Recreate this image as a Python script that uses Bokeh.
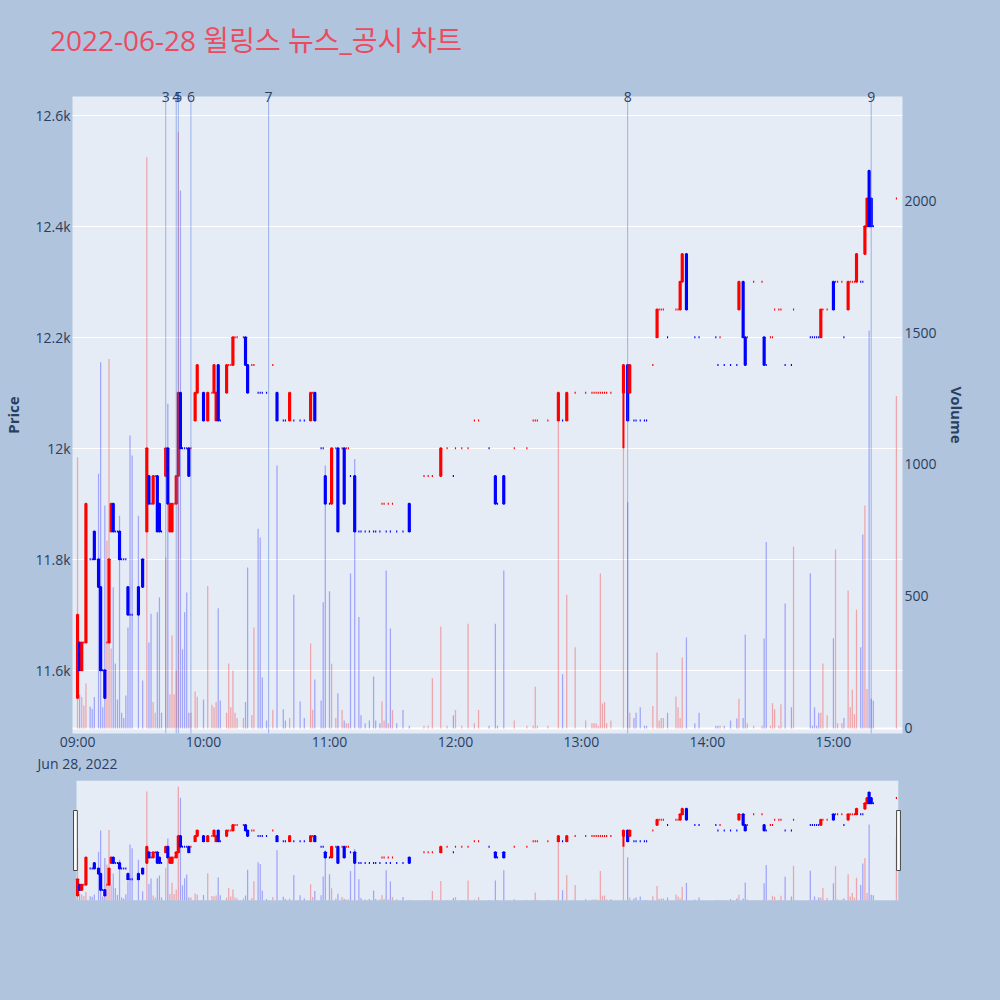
import pandas as pd
from bokeh.plotting import figure
from bokeh.models import (Range1d, LinearAxis, FixedTicker, NumeralTickFormatter,
                          DatetimeTickFormatter, Grid, Span, ColumnDataSource, AllLabels,
                          BoxAnnotation, GlobalInlineStyleSheet, Div)
from bokeh.layouts import column
from bokeh.embed import file_html
from bokeh.resources import INLINE

DATE = "2022-06-28"
TITLE = "2022-06-28 윌링스 뉴스_공시 차트"

times = ["09:00","09:01","09:02","09:03","09:04","09:06","09:07","09:08","09:10","09:11",
         "09:12","09:13","09:14","09:15","09:16","09:17","09:18","09:19","09:20","09:21",
         "09:22","09:23","09:24","09:25","09:26","09:29","09:31","09:33","09:34","09:35",
         "09:36","09:37","09:38","09:39","09:40","09:42","09:43","09:44","09:45","09:46",
         "09:47","09:48","09:49","09:50","09:51","09:52","09:53","09:54","09:56","09:57",
         "10:00","10:02","10:04","10:05","10:06","10:07","10:08","10:11","10:12","10:13",
         "10:14","10:15","10:16","10:19","10:20","10:21","10:23","10:24","10:26","10:27",
         "10:28","10:30","10:33","10:35","10:38","10:39","10:41","10:43","10:46","10:48",
         "10:51","10:52","10:53","10:56","10:57","10:58","11:00","11:01","11:03","11:04",
         "11:06","11:07","11:08","11:09","11:10","11:12","11:14","11:15","11:17","11:19",
         "11:21","11:22","11:24","11:25","11:26","11:27","11:28","11:29","11:30","11:32",
         "11:35","11:38","11:45","11:47","11:49","11:53","11:56","11:59","12:00","12:03",
         "12:06","12:09","12:11","12:16","12:19","12:20","12:23","12:28","12:34","12:37",
         "12:38","12:39","12:44","12:49","12:51","12:53","12:57","13:02","13:05","13:06",
         "13:07","13:08","13:09","13:10","13:11","13:12","13:14","13:20","13:22","13:23",
         "13:25","13:26","13:28","13:30","13:31","13:34","13:36","13:37","13:38","13:39",
         "13:41","13:45","13:46","13:47","13:48","13:50","13:54","13:56","14:04","14:05",
         "14:06","14:08","14:11","14:14","14:15","14:17","14:18","14:19","14:22","14:26",
         "14:27","14:28","14:30","14:31","14:32","14:34","14:35","14:37","14:40","14:41",
         "14:49","14:50","14:51","14:52","14:53","14:54","14:55","14:57","15:00","15:01",
         "15:02","15:04","15:05","15:07","15:08","15:09","15:10","15:11","15:13","15:14",
         "15:15","15:16","15:17","15:18","15:19","15:30"]

opens = [11550,11650,11600,11650,11650,11800,11800,11850,11800,11750,
         11600,11600,11650,11650,11850,11900,11850,11850,11850,11800,
         11800,11800,11750,11700,11700,11750,11800,11850,11950,11900,
         11900,11950,11950,11900,11850,11950,12000,11850,11850,11900,
         11900,11950,12100,12000,12000,12000,12000,12000,12050,12100,
         12100,12050,12100,12100,12050,12150,12050,12100,12150,12150,
         12150,12200,12200,12200,12200,12150,12150,12150,12100,12100,
         12100,12100,12150,12100,12050,12050,12050,12050,12050,12050,
         12050,12100,12100,12000,12000,11950,11900,11900,12000,12000,
         12000,12000,12000,12000,11950,11950,11850,11850,11850,11850,
         11850,11850,11850,11900,11900,11850,11900,11850,11900,11850,
         11850,11900,11950,11950,11950,11950,12000,11950,12000,12000,
         12000,12050,12050,12000,11950,11900,11950,12000,12000,12050,
         12050,12050,12050,12050,12050,12050,12100,12100,12100,12100,
         12100,12100,12100,12100,12100,12100,12100,12100,12150,12100,
         12050,12050,12050,12050,12050,12150,12200,12250,12250,12250,
         12200,12250,12250,12250,12300,12350,12200,12200,12200,12150,
         12200,12150,12150,12150,12250,12300,12200,12200,12300,12300,
         12200,12150,12200,12200,12250,12250,12250,12150,12150,12250,
         12200,12200,12200,12200,12200,12200,12250,12250,12300,12300,
         12300,12300,12200,12250,12300,12300,12300,12300,12300,12300,
         12350,12400,12500,12450,12400,12450]

highs = [11700,11650,11650,11650,11900,11800,11800,11850,11800,11750,
         11600,11600,11650,11800,11900,11900,11850,11850,11850,11800,
         11800,11800,11750,11700,11700,11750,11800,12000,11950,11900,
         11950,11950,11950,11900,11850,12000,12000,11900,11900,11900,
         11950,12100,12100,12000,12000,12000,12000,12000,12100,12150,
         12100,12100,12100,12150,12100,12150,12050,12150,12150,12150,
         12200,12200,12200,12200,12200,12150,12150,12150,12100,12100,
         12100,12100,12150,12100,12050,12050,12100,12050,12050,12050,
         12100,12100,12100,12000,12000,11950,11900,12000,12000,12000,
         12000,12000,12000,12000,11950,11950,11850,11850,11850,11850,
         11850,11850,11850,11900,11900,11850,11900,11850,11900,11850,
         11850,11900,11950,11950,11950,12000,12000,11950,12000,12000,
         12000,12050,12050,12000,11950,11900,11950,12000,12000,12050,
         12050,12050,12050,12100,12050,12100,12100,12100,12100,12100,
         12100,12100,12100,12100,12100,12100,12100,12150,12150,12150,
         12050,12050,12050,12050,12050,12150,12250,12250,12250,12250,
         12200,12250,12250,12300,12350,12350,12200,12200,12200,12150,
         12200,12150,12150,12150,12300,12300,12200,12200,12300,12300,
         12200,12150,12200,12200,12250,12250,12250,12150,12150,12250,
         12200,12200,12200,12200,12200,12250,12250,12250,12300,12300,
         12300,12300,12200,12300,12300,12300,12300,12350,12300,12300,
         12400,12450,12500,12450,12400,12450]

lows = [11550,11600,11600,11650,11650,11800,11800,11800,11750,11600,
        11600,11550,11650,11650,11850,11850,11850,11850,11800,11800,
        11800,11800,11700,11700,11700,11700,11750,11850,11900,11900,
        11900,11950,11850,11850,11850,11950,11900,11850,11850,11900,
        11900,11950,12000,12000,12000,12000,11950,12000,12050,12100,
        12050,12050,12100,12100,12050,12050,12050,12100,12150,12150,
        12150,12200,12200,12200,12150,12100,12150,12150,12100,12100,
        12100,12100,12150,12050,12050,12050,12050,12050,12050,12050,
        12050,12100,12050,12000,12000,11900,11900,11900,12000,11850,
        12000,11900,12000,12000,11950,11850,11850,11850,11850,11850,
        11850,11850,11850,11900,11900,11850,11900,11850,11900,11850,
        11850,11850,11950,11950,11950,11950,12000,11950,12000,12000,
        12000,12050,12050,12000,11900,11900,11900,12000,12000,12050,
        12050,12050,12050,12050,12050,12050,12100,12100,12100,12100,
        12100,12100,12100,12100,12100,12100,12100,12000,12050,12100,
        12050,12050,12050,12050,12050,12150,12200,12250,12250,12250,
        12200,12250,12250,12250,12300,12250,12200,12200,12200,12150,
        12200,12150,12150,12150,12250,12200,12150,12200,12300,12300,
        12150,12150,12200,12200,12250,12250,12250,12150,12150,12250,
        12200,12200,12200,12200,12200,12200,12250,12250,12250,12300,
        12300,12300,12200,12250,12300,12300,12300,12300,12300,12300,
        12350,12400,12400,12400,12400,12450]

closes = [11700,11600,11650,11650,11900,11800,11800,11800,11750,11600,
          11600,11550,11650,11800,11900,11850,11850,11850,11800,11800,
          11800,11800,11700,11700,11700,11700,11750,12000,11900,11900,
          11950,11950,11850,11850,11850,12000,11900,11900,11900,11900,
          11950,12100,12000,12000,12000,12000,11950,12000,12100,12150,
          12050,12100,12100,12150,12100,12050,12050,12150,12150,12150,
          12200,12200,12200,12200,12150,12100,12150,12150,12100,12100,
          12100,12100,12150,12050,12050,12050,12100,12050,12050,12050,
          12100,12100,12050,12000,12000,11900,11900,12000,12000,11850,
          12000,11900,12000,12000,11950,11850,11850,11850,11850,11850,
          11850,11850,11850,11900,11900,11850,11900,11850,11900,11850,
          11850,11850,11950,11950,11950,12000,12000,11950,12000,12000,
          12000,12050,12050,12000,11900,11900,11900,12000,12000,12050,
          12050,12050,12050,12100,12050,12100,12100,12100,12100,12100,
          12100,12100,12100,12100,12100,12100,12100,12150,12050,12150,
          12050,12050,12050,12050,12050,12150,12250,12250,12250,12250,
          12200,12250,12250,12300,12350,12250,12200,12200,12200,12150,
          12200,12150,12150,12150,12300,12200,12150,12200,12300,12300,
          12150,12150,12200,12200,12250,12250,12250,12150,12150,12250,
          12200,12200,12200,12200,12200,12250,12250,12250,12250,12300,
          12300,12300,12200,12300,12300,12300,12300,12350,12300,12300,
          12400,12450,12400,12400,12400,12450]

volumes = [1027,128,119,87,170,83,75,119,965,1387,
           80,845,712,1400,303,535,246,110,806,60,
           40,125,383,1110,1034,806,182,2164,326,435,
           100,60,440,496,60,648,1230,130,352,130,
           220,2260,2038,300,440,515,60,60,140,120,
           110,540,90,80,100,455,106,60,246,80,
           220,60,40,40,100,610,50,383,757,723,
           193,30,71,996,73,30,40,507,102,40,
           322,71,186,106,478,996,520,245,40,133,
           70,30,20,20,587,1021,422,50,20,30,
           197,30,20,102,30,598,20,379,70,20,
           70,10,10,10,190,386,10,50,70,10,
           397,20,70,10,397,10,598,30,10,10,
           158,10,10,1167,205,507,308,30,20,20,
           20,10,587,95,100,20,30,1230,857,60,
           40,60,80,10,10,85,288,30,40,40,
           60,121,80,40,269,345,20,60,10,10,
           10,10,30,38,113,40,356,20,10,10,
           341,706,10,96,72,10,92,473,80,689,
           588,10,80,10,60,60,246,50,342,678,
           20,20,40,523,80,147,55,450,308,735,
           845,150,1508,113,105,1259]

news_times = ["09:42", "09:47", "09:48", "09:54", "10:31", "13:22", "15:18"]
news_labels = ["3", "4", "5", "6", "7", "8", "9"]

price_ticks = [11600, 11800, 12000, 12200, 12400, 12600]
volume_ticks = [0, 500, 1000, 1500, 2000]
hour_ticks = ["09:00", "10:00", "11:00", "12:00", "13:00", "14:00", "15:00"]

n = len(times)
assert all(len(a) == n for a in (opens, highs, lows, closes, volumes))

# ---------------------------------------------------------------------------
MIN = 60000.0
def to_ms(hhmm):
    return pd.Timestamp(f"{DATE} {hhmm}").value / 1e6

xs = [to_ms(t) for t in times]
UP, DOWN = "#ff0000", "#0000ff"
colors = []
prev_c, prev_col = None, UP
for o, c in zip(opens, closes):
    if c > o:
        col = UP
    elif c < o:
        col = DOWN
    elif prev_c is None or c > prev_c:
        col = UP
    elif c < prev_c:
        col = DOWN
    else:
        col = prev_col
    colors.append(col)
    prev_c, prev_col = c, col

src = ColumnDataSource(dict(
    x=xs, open=opens, high=highs, low=lows, close=closes, vol=volumes,
    top=[max(o, c) for o, c in zip(opens, closes)],
    bottom=[min(o, c) for o, c in zip(opens, closes)],
    color=colors))

BG = "#b0c4de"
PLOT_BG = "#e5ecf6"
TXT = "#2a3f5f"
FONT = "Open Sans, Noto Sans CJK KR"
BODY_W = 0.55 * MIN
VOL_W = 0.6 * MIN

x0, x1 = xs[0], xs[-1]
X_START, X_END = x0 - 2.4 * MIN, x1 + 2.9 * MIN
Y_LO, Y_HI = 11486, 12634

# title block
title_div = Div(text=(f'<div style="margin:0;padding:21px 0 0 50px;font-size:28px;'
                      f'line-height:38px;color:#ec4b5f;white-space:nowrap;'
                      f'font-family:\'Open Sans\',\'Noto Sans CJK KR\',sans-serif;">{TITLE}</div>'),
                width=1000, height=60, margin=(0, 0, 0, 0))

fig = figure(width=1000, height=720, x_axis_type="datetime",
             x_range=Range1d(X_START, X_END),
             y_range=Range1d(Y_LO, Y_HI),
             output_backend="svg", toolbar_location=None,
             min_border_left=72, min_border_right=98, min_border_top=36, min_border_bottom=47,
             background_fill_color=PLOT_BG, border_fill_color=BG, outline_line_color=None)

fig.extra_y_ranges = {"vol": Range1d(-19, 2394)}

# volume grid (gray) and zero line
vgrid = Grid(dimension=1, ticker=FixedTicker(ticks=volume_ticks[1:]), y_range_name="vol",
             grid_line_color="#7f7f7f", grid_line_alpha=0.9, grid_line_width=1)
fig.add_layout(vgrid)
fig.add_layout(Span(location=0, dimension="width", y_range_name="vol",
                    line_color="white", line_width=2, level="underlay"))

# volume bars
fig.vbar(x="x", width=VOL_W, top="vol", bottom=0, y_range_name="vol", source=src,
         fill_color="color", fill_alpha=0.3, line_color=None)
# candles
fig.segment(x0="x", y0="high", x1="x", y1="low", source=src, line_color="color", line_width=2)
fig.vbar(x="x", width=BODY_W, top="top", bottom="bottom", source=src,
         fill_color="color", line_color="color", line_width=2)

# news lines and their numbers (numbers on an axis above the plot area)
news_ms = [to_ms(t) for t in news_times]
for ms in news_ms:
    fig.add_layout(Span(location=ms, dimension="height", line_color="royalblue",
                        line_alpha=0.45, line_width=1))
news_ax = LinearAxis(ticker=FixedTicker(ticks=news_ms),
                     major_label_overrides={ms: lab for ms, lab in zip(news_ms, news_labels)},
                     major_label_policy=AllLabels())
fig.add_layout(news_ax, "above")

# axes
fig.xgrid.visible = False
fig.ygrid.ticker = FixedTicker(ticks=price_ticks)
fig.ygrid.grid_line_color = "white"
fig.ygrid.grid_line_width = 1

fig.below[0].ticker = FixedTicker(ticks=[to_ms(h) for h in hour_ticks])
fig.below[0].formatter = DatetimeTickFormatter(hours="%H:%M", hourmin="%H:%M", minutes="%H:%M",
                                               context="%b %d, %Y", context_which="start")
fig.yaxis.ticker = FixedTicker(ticks=price_ticks)
fig.yaxis.formatter = NumeralTickFormatter(format="0.[0]a")
fig.yaxis.axis_label = "Price"

vax = LinearAxis(y_range_name="vol", ticker=FixedTicker(ticks=volume_ticks), axis_label="Volume")
fig.add_layout(vax, "right")

for ax in fig.axis:
    ax.axis_line_color = None
    ax.major_tick_line_color = None
    ax.minor_tick_line_color = None
    ax.major_tick_out = 0
    ax.major_tick_in = 0
    ax.major_label_text_font = FONT
    ax.major_label_text_font_size = "14px"
    ax.major_label_text_color = TXT
    ax.axis_label_text_font = FONT
    ax.axis_label_text_font_size = "15px"
    ax.axis_label_text_font_style = "bold"
    ax.axis_label_text_color = TXT

fig.below[0].major_label_standoff = -2
news_ax.major_label_standoff = -5
fig.yaxis.major_label_standoff = 2
fig.yaxis.axis_label_standoff = 9
vax.major_label_standoff = 2
vax.axis_label_standoff = 7

# ---------------------------------------------------------------------------
slider = figure(width=1000, height=220, x_axis_type="datetime",
                x_range=Range1d(X_START, X_END),
                y_range=Range1d(11504, 12611),
                output_backend="svg", toolbar_location=None,
                x_axis_location=None, y_axis_location=None,
                min_border_left=72, min_border_right=98, min_border_top=0, min_border_bottom=100,
                background_fill_color=BG, border_fill_color=BG, outline_line_color=None)
slider.grid.visible = False
slider.extra_y_ranges = {"vol": Range1d(0, 2380)}
slider.add_layout(BoxAnnotation(left=x0 - 0.5 * MIN, right=x1 + 0.9 * MIN,
                                fill_color=PLOT_BG, fill_alpha=1.0, line_color=None,
                                level="underlay"))
slider.vbar(x="x", width=VOL_W, top="vol", bottom=0, y_range_name="vol", source=src,
            fill_color="color", fill_alpha=0.3, line_color=None)
slider.segment(x0="x", y0="high", x1="x", y1="low", source=src, line_color="color", line_width=2)
slider.vbar(x="x", width=BODY_W, top="top", bottom="bottom", source=src,
            fill_color="color", line_color="color", line_width=2)

ylo, yhi = 11504, 12611
for left, right in ((x0 - 1.9 * MIN, x0 - 0.1 * MIN), (x1 + 0.1 * MIN, x1 + 1.9 * MIN)):
    slider.add_layout(BoxAnnotation(left=left, right=right,
                                    bottom=ylo + 0.25 * (yhi - ylo), top=ylo + 0.75 * (yhi - ylo),
                                    fill_color="white", fill_alpha=1.0,
                                    line_color="#444444", line_width=1, line_alpha=1.0))

p = column(title_div, fig, slider, spacing=0,
           stylesheets=[GlobalInlineStyleSheet(css="html, body { background-color: #b0c4de; }")])

open("out.html", "w").write(file_html(p, INLINE))
